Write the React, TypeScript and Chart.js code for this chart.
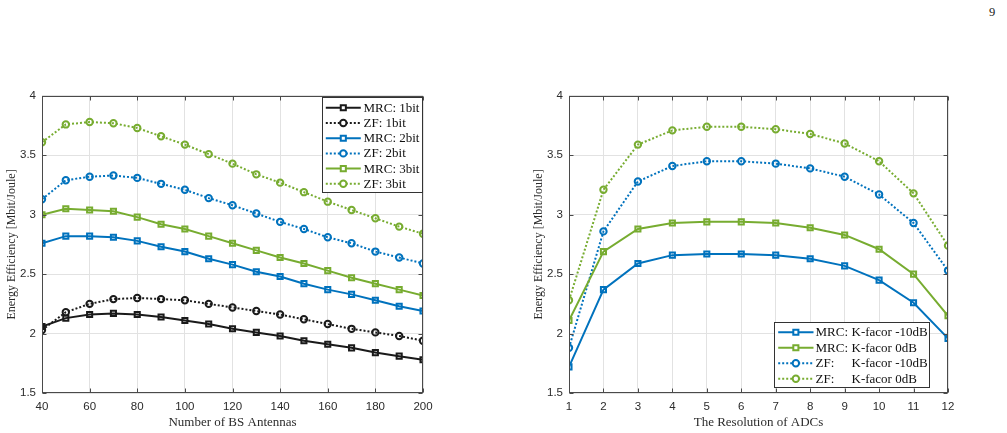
import React, { useEffect, useRef } from 'react';
import { Chart, registerables } from 'chart.js';

Chart.register(...registerables);

// Left panel: energy efficiency versus number of base-station antennas
const antennas = [40, 50, 60, 70, 80, 90, 100, 110, 120, 130, 140, 150, 160, 170, 180, 190, 200];
const mrc1bit = [2.06, 2.13, 2.16, 2.17, 2.16, 2.14, 2.11, 2.08, 2.04, 2.01, 1.98, 1.94, 1.91, 1.88, 1.84, 1.81, 1.78];
const zf1bit = [2.03, 2.18, 2.25, 2.29, 2.30, 2.29, 2.28, 2.25, 2.22, 2.19, 2.16, 2.12, 2.08, 2.04, 2.01, 1.98, 1.94];
const mrc2bit = [2.76, 2.82, 2.82, 2.81, 2.78, 2.73, 2.69, 2.63, 2.58, 2.52, 2.48, 2.42, 2.37, 2.33, 2.28, 2.23, 2.19];
const zf2bit = [3.13, 3.29, 3.32, 3.33, 3.31, 3.26, 3.21, 3.14, 3.08, 3.01, 2.94, 2.88, 2.81, 2.76, 2.69, 2.64, 2.59];
const mrc3bit = [3.00, 3.05, 3.04, 3.03, 2.98, 2.92, 2.88, 2.82, 2.76, 2.70, 2.64, 2.59, 2.53, 2.47, 2.42, 2.37, 2.32];
const zf3bit = [3.61, 3.76, 3.78, 3.77, 3.73, 3.66, 3.59, 3.51, 3.43, 3.34, 3.27, 3.19, 3.11, 3.04, 2.97, 2.90, 2.84];

// Right panel: energy efficiency versus ADC resolution
const adcBits = [1, 2, 3, 4, 5, 6, 7, 8, 9, 10, 11, 12];
const mrcKm10 = [1.72, 2.37, 2.59, 2.66, 2.67, 2.67, 2.66, 2.63, 2.57, 2.45, 2.26, 1.96];
const mrcK0 = [2.11, 2.69, 2.88, 2.93, 2.94, 2.94, 2.93, 2.89, 2.83, 2.71, 2.50, 2.15];
const zfKm10 = [1.88, 2.86, 3.28, 3.41, 3.45, 3.45, 3.43, 3.39, 3.32, 3.17, 2.93, 2.53];
const zfK0 = [2.28, 3.21, 3.59, 3.71, 3.74, 3.74, 3.72, 3.68, 3.60, 3.45, 3.18, 2.74];

const yTicks = [1.5, 2, 2.5, 3, 3.5, 4];
const leftLabels = ['MRC: 1bit', 'ZF: 1bit', 'MRC: 2bit', 'ZF: 2bit', 'MRC: 3bit', 'ZF: 3bit'];
const rightLabels = ['MRC: K-facor -10dB', 'MRC: K-facor 0dB', 'ZF: K-facor -10dB', 'ZF: K-facor 0dB'];

const BLACK = '#1a1a1a';
const BLUE = '#0072BD';
const GREEN = '#77AC30';
const SERIF = '"Times New Roman", "Liberation Serif", serif';
const SANS = 'Arial, "Liberation Sans", Helvetica, sans-serif';
const TEXT = '#2b2b2b';

function series(label: string, xs: number[], ys: number[], color: string, dotted: boolean) {
  return {
    label,
    data: xs.map((x, i) => ({ x, y: ys[i] })),
    borderColor: color,
    backgroundColor: color,
    borderWidth: 2,
    borderDash: dotted ? [2, 2] : [],
    tension: 0,
    pointStyle: dotted ? 'circle' : 'rect',
    pointRadius: dotted ? 3.2 : 3.6,
    pointBorderWidth: 2,
    pointBorderColor: color,
    pointBackgroundColor: 'rgba(255,255,255,0)',
    fill: false,
  };
}

// Axes box with inward tick marks on all four sides
const framePlugin = {
  id: 'frame',
  afterDatasetsDraw(chart: any) {
    const { ctx, chartArea: a, scales } = chart;
    const L = Math.round(a.left) + 0.5;
    const R = Math.round(a.right) - 0.5;
    const T = Math.round(a.top) + 0.5;
    const B = Math.round(a.bottom) - 0.5;
    ctx.save();
    ctx.strokeStyle = '#4a4a4a';
    ctx.lineWidth = 1;
    ctx.setLineDash([]);
    ctx.strokeRect(L, T, R - L, B - T);
    const len = 4;
    ctx.beginPath();
    scales.x.ticks.forEach((t: any) => {
      const px = Math.round(scales.x.getPixelForValue(t.value)) + 0.5;
      ctx.moveTo(px, B); ctx.lineTo(px, B - len);
      ctx.moveTo(px, T); ctx.lineTo(px, T + len);
    });
    scales.y.ticks.forEach((t: any) => {
      const py = Math.round(scales.y.getPixelForValue(t.value)) + 0.5;
      ctx.moveTo(L, py); ctx.lineTo(L + len, py);
      ctx.moveTo(R, py); ctx.lineTo(R - len, py);
    });
    ctx.stroke();
    ctx.restore();
  },
};

// Boxed legend with line samples and markers
const boxLegendPlugin = {
  id: 'boxLegend',
  afterDraw(chart: any, _args: any, o: any) {
    if (!o || !o.width) return;
    const { ctx, chartArea: a } = chart;
    const x0 = Math.round(a.right - o.right - o.width) + 0.5;
    const y0 = o.anchor === 'top'
      ? Math.round(a.top + o.offset) + 0.5
      : Math.round(a.bottom - o.offset - o.height) + 0.5;
    ctx.save();
    ctx.fillStyle = '#ffffff';
    ctx.fillRect(x0, y0, o.width, o.height);
    ctx.strokeStyle = '#333333';
    ctx.lineWidth = 1;
    ctx.strokeRect(x0, y0, o.width, o.height);
    ctx.font = `13px ${SERIF}`;
    ctx.textBaseline = 'middle';
    chart.data.datasets.forEach((ds: any, i: number) => {
      const cy = y0 + o.rowStart + i * o.rowGap;
      ctx.strokeStyle = ds.borderColor;
      ctx.lineWidth = 2;
      ctx.setLineDash(ds.borderDash || []);
      ctx.beginPath();
      ctx.moveTo(x0 + o.lineFrom, cy);
      ctx.lineTo(x0 + o.lineTo, cy);
      ctx.stroke();
      ctx.setLineDash([]);
      const mx = x0 + (o.lineFrom + o.lineTo) / 2;
      ctx.fillStyle = '#ffffff';
      ctx.beginPath();
      if (ds.pointStyle === 'circle') {
        ctx.arc(mx, cy, ds.pointRadius, 0, Math.PI * 2);
      } else {
        const h = ds.pointRadius * Math.SQRT1_2;
        ctx.rect(mx - h, cy - h, 2 * h, 2 * h);
      }
      ctx.fill();
      ctx.stroke();
      ctx.fillStyle = '#111111';
      const label: string = ds.label;
      if (o.column) {
        const cut = label.indexOf(':') + 1;
        ctx.fillText(label.slice(0, cut), x0 + o.textX, cy + 0.5);
        ctx.fillText(label.slice(cut).trim(), x0 + o.column, cy + 0.5);
      } else {
        ctx.fillText(label, x0 + o.textX, cy + 0.5);
      }
    });
    ctx.restore();
  },
};

function makeConfig(
  datasets: any[],
  xMin: number,
  xMax: number,
  xStep: number,
  xTitle: string,
  rightPad: number,
  legend: any,
) {
  return {
    type: 'line',
    data: { datasets },
    plugins: [framePlugin, boxLegendPlugin],
    options: {
      responsive: false,
      animation: false,
      devicePixelRatio: 1,
      layout: { padding: { top: 10, right: rightPad, left: 0, bottom: 0 } },
      plugins: {
        legend: { display: false },
        tooltip: { enabled: false },
        boxLegend: legend,
      },
      scales: {
        x: {
          type: 'linear',
          min: xMin,
          max: xMax,
          afterFit: (s: any) => { s.height = 40; },
          ticks: {
            stepSize: xStep,
            autoSkip: false,
            maxRotation: 0,
            padding: 7,
            color: TEXT,
            font: { family: SANS, size: 11.5 },
          },
          grid: { color: '#e2e2e2', drawTicks: false, lineWidth: 1 },
          border: { display: false },
          title: {
            display: true,
            text: xTitle,
            color: TEXT,
            font: { family: SERIF, size: 13 },
            padding: { top: 0, bottom: 3 },
          },
        },
        y: {
          type: 'linear',
          min: yTicks[0],
          max: yTicks[yTicks.length - 1],
          afterFit: (s: any) => { s.width = 42; },
          afterBuildTicks: (s: any) => { s.ticks = yTicks.map((v) => ({ value: v })); },
          ticks: {
            padding: 6,
            color: TEXT,
            font: { family: SANS, size: 11.5 },
            callback: (v: any) => String(v),
          },
          grid: { color: '#e2e2e2', drawTicks: false, lineWidth: 1 },
          border: { display: false },
          title: {
            display: true,
            text: 'Energy Efficiency [Mbit/Joule]',
            color: TEXT,
            font: { family: SERIF, size: 12 },
            padding: { top: 5, bottom: 0 },
          },
        },
      },
    },
  };
}

function ChartCanvas({ config, left, top, width, height }: any) {
  const ref = useRef<HTMLCanvasElement | null>(null);
  useEffect(() => {
    if (!ref.current) return;
    const chart = new Chart(ref.current, config() as any);
    return () => chart.destroy();
  }, []);
  return (
    <canvas
      ref={ref}
      width={width}
      height={height}
      style={{ position: 'absolute', left, top, width, height }}
    />
  );
}

export default function App() {
  const leftConfig = () =>
    makeConfig(
      [
        series(leftLabels[0], antennas, mrc1bit, BLACK, false),
        series(leftLabels[1], antennas, zf1bit, BLACK, true),
        series(leftLabels[2], antennas, mrc2bit, BLUE, false),
        series(leftLabels[3], antennas, zf2bit, BLUE, true),
        series(leftLabels[4], antennas, mrc3bit, GREEN, false),
        series(leftLabels[5], antennas, zf3bit, GREEN, true),
      ],
      40, 200, 20, 'Number of BS Antennas', 17,
      {
        width: 100, height: 95, right: 1, offset: 1, anchor: 'top',
        rowStart: 10.3, rowGap: 15.2, lineFrom: 3.3, lineTo: 38.3, textX: 41, column: 0,
      },
    );
  const rightConfig = () =>
    makeConfig(
      [
        series(rightLabels[0], adcBits, mrcKm10, BLUE, false),
        series(rightLabels[1], adcBits, mrcK0, GREEN, false),
        series(rightLabels[2], adcBits, zfKm10, BLUE, true),
        series(rightLabels[3], adcBits, zfK0, GREEN, true),
      ],
      1, 12, 1, 'The Resolution of ADCs', 19,
      {
        width: 155, height: 65, right: 19, offset: 6, anchor: 'bottom',
        rowStart: 9.7, rowGap: 15.5, lineFrom: 3.7, lineTo: 39, textX: 41, column: 77,
      },
    );
  return (
    <div style={{ position: 'absolute', left: 0, top: 0, width: 1007, height: 433, overflow: 'hidden', background: '#fff' }}>
      <ChartCanvas config={leftConfig} left={0} top={83} width={440} height={350} />
      <ChartCanvas config={rightConfig} left={527} top={83} width={440} height={350} />
      <div
        style={{
          position: 'absolute', left: 989, top: 4, fontFamily: SERIF, fontSize: 12.5,
          color: '#222', lineHeight: '16px',
        }}
      >
        9
      </div>
    </div>
  );
}
